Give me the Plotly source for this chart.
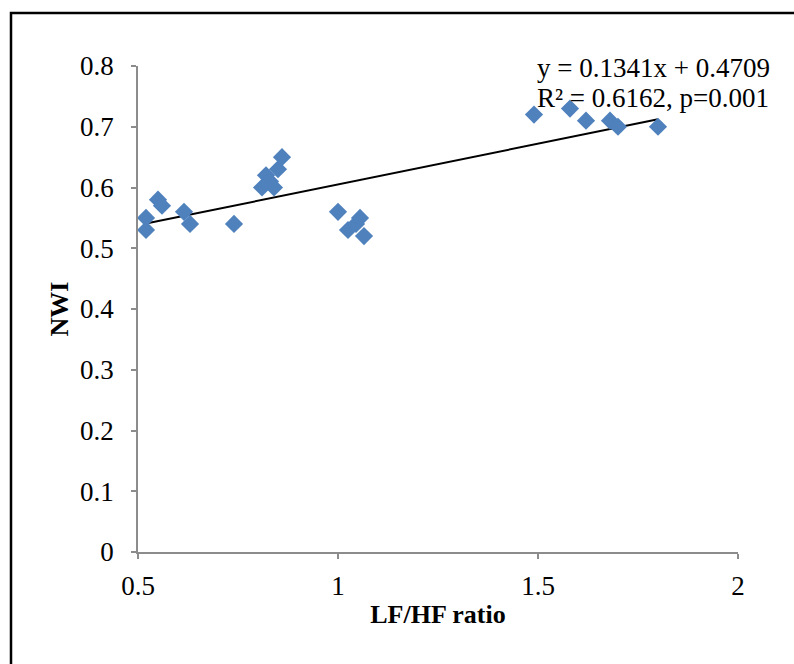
import plotly.graph_objects as go

# LF/HF ratio vs NWI measurements
lf_hf = [0.52, 0.52, 0.55, 0.56, 0.615, 0.63, 0.74,
         0.81, 0.82, 0.83, 0.84, 0.85, 0.86,
         1.00, 1.025, 1.045, 1.055, 1.065,
         1.49, 1.58, 1.62, 1.68, 1.70, 1.80]
nwi = [0.55, 0.53, 0.58, 0.57, 0.56, 0.54, 0.54,
       0.60, 0.62, 0.61, 0.60, 0.63, 0.65,
       0.56, 0.53, 0.54, 0.55, 0.52,
       0.72, 0.73, 0.71, 0.71, 0.70, 0.70]

# Linear trend reported for the data
slope = 0.1341
intercept = 0.4709
r_squared = 0.6162
p_value = "0.001"

x_ticks = [0.5, 1, 1.5, 2]
x_tick_text = ["0.5", "1", "1.5", "2"]
y_ticks = [0, 0.1, 0.2, 0.3, 0.4, 0.5, 0.6, 0.7, 0.8]
y_tick_text = ["0", "0.1", "0.2", "0.3", "0.4", "0.5", "0.6", "0.7", "0.8"]

serif = "Liberation Serif, Times New Roman, serif"

fit_x = [min(lf_hf), max(lf_hf)]
fit_y = [slope * v + intercept for v in fit_x]

fig = go.Figure()
fig.add_trace(go.Scatter(
    x=fit_x, y=fit_y, mode="lines",
    line=dict(color="black", width=2),
    showlegend=False, hoverinfo="skip",
))
fig.add_trace(go.Scatter(
    x=lf_hf, y=nwi, mode="markers",
    marker=dict(symbol="diamond", size=14, color="#4F81BD",
                line=dict(width=0)),
    showlegend=False,
))

axis_common = dict(
    showgrid=False, zeroline=False, showline=True,
    linecolor="#8C8C8C", linewidth=1.5,
    ticks="outside", ticklen=5, tickcolor="#8C8C8C", tickwidth=1.5,
    tickfont=dict(family=serif, size=27, color="black"),
)

fig.update_xaxes(
    range=[0.5, 2], tickvals=x_ticks, ticktext=x_tick_text,
    ticklabelstandoff=4,
    title=dict(text="<b>LF/HF ratio</b>", standoff=5,
               font=dict(family=serif, size=26, color="black")),
    **axis_common,
)
fig.update_yaxes(
    range=[0, 0.8], tickvals=y_ticks, ticktext=y_tick_text,
    ticklabelstandoff=12,
    title=dict(text="<b>NWI</b>", standoff=4,
               font=dict(family=serif, size=26, color="black")),
    **axis_common,
)

eq_line = f"y = {slope:.4f}x + {intercept:.4f}"
r2_line = f"R² = {r_squared:.4f}, p={p_value}"

for text, ypos in [(eq_line, 0.996), (r2_line, 0.934)]:
    fig.add_annotation(
        text=text, xref="paper", yref="paper", x=0.662, y=ypos,
        xanchor="left", yanchor="middle", showarrow=False,
        font=dict(family=serif, size=27, color="black"),
    )

# chart frame
fig.add_shape(
    type="rect", xref="paper", yref="paper",
    x0=(11 - 138) / 600, x1=(810 - 138) / 600,
    y0=(552 - 680) / 486, y1=(552 - 13) / 486,
    line=dict(color="black", width=2.5), fillcolor="rgba(0,0,0,0)",
    layer="above",
)

fig.update_layout(
    width=794, height=664,
    margin=dict(l=138, r=56, t=66, b=112),
    paper_bgcolor="white", plot_bgcolor="white",
)

fig.write_html("out.html")
